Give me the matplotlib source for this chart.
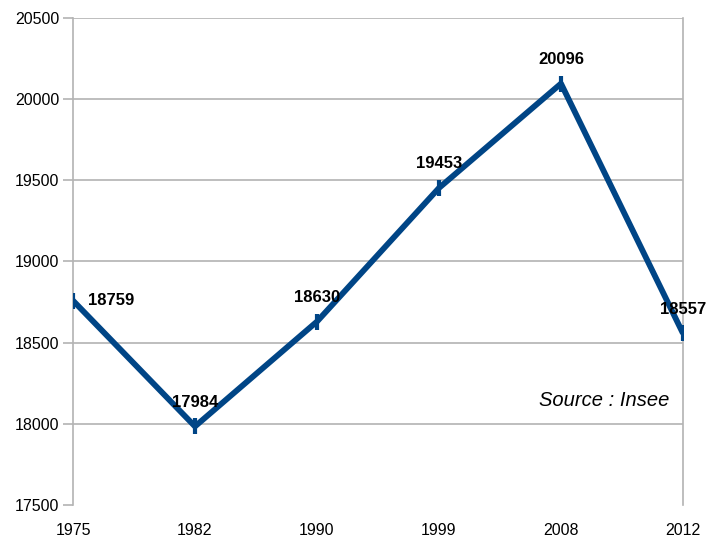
import numpy as np
import matplotlib
matplotlib.use('Agg')
import matplotlib.pyplot as plt

plt.rcParams['font.family'] = ['Liberation Sans', 'DejaVu Sans']

# data
years = ['1975', '1982', '1990', '1999', '2008', '2012']
population = [18759, 17984, 18630, 19453, 20096, 18557]
yticks = [17500, 18000, 18500, 19000, 19500, 20000, 20500]

fig = plt.figure(figsize=(7.06, 5.39), dpi=100)
ax = fig.add_axes([0.1034, 0.0631, 0.864, 0.9035])

x = np.arange(len(years))
ax.plot(x, population, color='#004586', linewidth=4.2, solid_capstyle='butt',
        marker='|', markersize=11, markeredgewidth=3, zorder=3)

# data labels
for i, v in enumerate(population):
    if i == 0:
        ax.annotate(str(v), (x[i], v), xytext=(11, 0), textcoords='offset points',
                    ha='left', va='center', fontsize=12, fontweight='bold')
    else:
        ax.annotate(str(v), (x[i], v), xytext=(0, 12), textcoords='offset points',
                    ha='center', va='bottom', fontsize=12, fontweight='bold')

ax.text(0.978, 0.215, 'Source : Insee', transform=ax.transAxes, ha='right',
        va='center', fontsize=14.5, fontstyle='italic')

ax.set_xlim(0, len(years) - 1)
ax.set_ylim(17500, 20500)
ax.set_xticks(x)
ax.set_xticklabels(years, fontsize=11.5)
ax.set_yticks(yticks)
ax.set_yticklabels([str(t) for t in yticks], fontsize=11.5)
ax.tick_params(axis='x', length=0, pad=13)
ax.tick_params(axis='y', length=7, color='#b3b3b3', width=1.2, pad=3)

for t in yticks[1:]:
    ax.axhline(t, color='#b3b3b3', linewidth=1.2, zorder=1)
ax.spines['top'].set_visible(False)
ax.spines['bottom'].set_visible(False)
ax.spines['left'].set_color('#b3b3b3')
ax.spines['left'].set_linewidth(1.2)
ax.spines['right'].set_color('#b3b3b3')
ax.spines['right'].set_linewidth(1.2)

plt.savefig('out.png', dpi=100)
